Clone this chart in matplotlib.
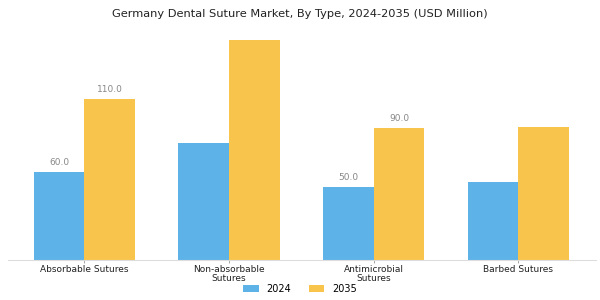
import numpy as np
import matplotlib.pyplot as plt

# data
categories = ["Absorbable Sutures", "Non-absorbable\nSutures", "Antimicrobial\nSutures", "Barbed Sutures"]
values_2024 = [60.0, 80.0, 50.0, 53.0]
values_2035 = [110.0, 150.0, 90.0, 91.0]
labelled_2024 = [True, False, True, False]
labelled_2035 = [True, False, True, False]

BLUE = "#5DB3E8"
YELLOW = "#F9C44C"

fig = plt.figure(figsize=(6, 3), dpi=100)
ax = fig.add_axes([0.013, 0.133, 0.981, 0.77])

x = np.arange(len(categories))
w = 0.35
b1 = ax.bar(x - w / 2, values_2024, w, color=BLUE, label="2024")
b2 = ax.bar(x + w / 2, values_2035, w, color=YELLOW, label="2035")

for bars, vals, flags in ((b1, values_2024, labelled_2024), (b2, values_2035, labelled_2035)):
    for r, v, f in zip(bars, vals, flags):
        if f:
            ax.annotate(f"{v:.1f}", (r.get_x() + r.get_width() / 2, v),
                        xytext=(0, 3.5), textcoords="offset points",
                        ha="center", va="bottom", fontsize=6.5, color="#888888")

ax.set_xticks(x)
ax.set_xticklabels(categories, fontsize=6.5, color="#222222", linespacing=1.0)
ax.tick_params(axis="x", length=2, width=0.6, color="#999999", pad=1.5)
ax.set_xlim(-0.53, 3.54)
ax.set_yticks([])
for s in ("top", "right", "left"):
    ax.spines[s].set_visible(False)
ax.spines["bottom"].set_color("#dddddd")
ax.spines["bottom"].set_linewidth(0.8)

fig.suptitle("Germany Dental Suture Market, By Type, 2024-2035 (USD Million)",
             fontsize=8.2, y=0.97, color="#222222")
fig.legend(loc="lower center", ncol=2, frameon=False, fontsize=7,
           bbox_to_anchor=(0.5, -0.01), handlelength=1.6, handleheight=0.7,
           columnspacing=1.8)

fig.savefig("out.png", dpi=100)
